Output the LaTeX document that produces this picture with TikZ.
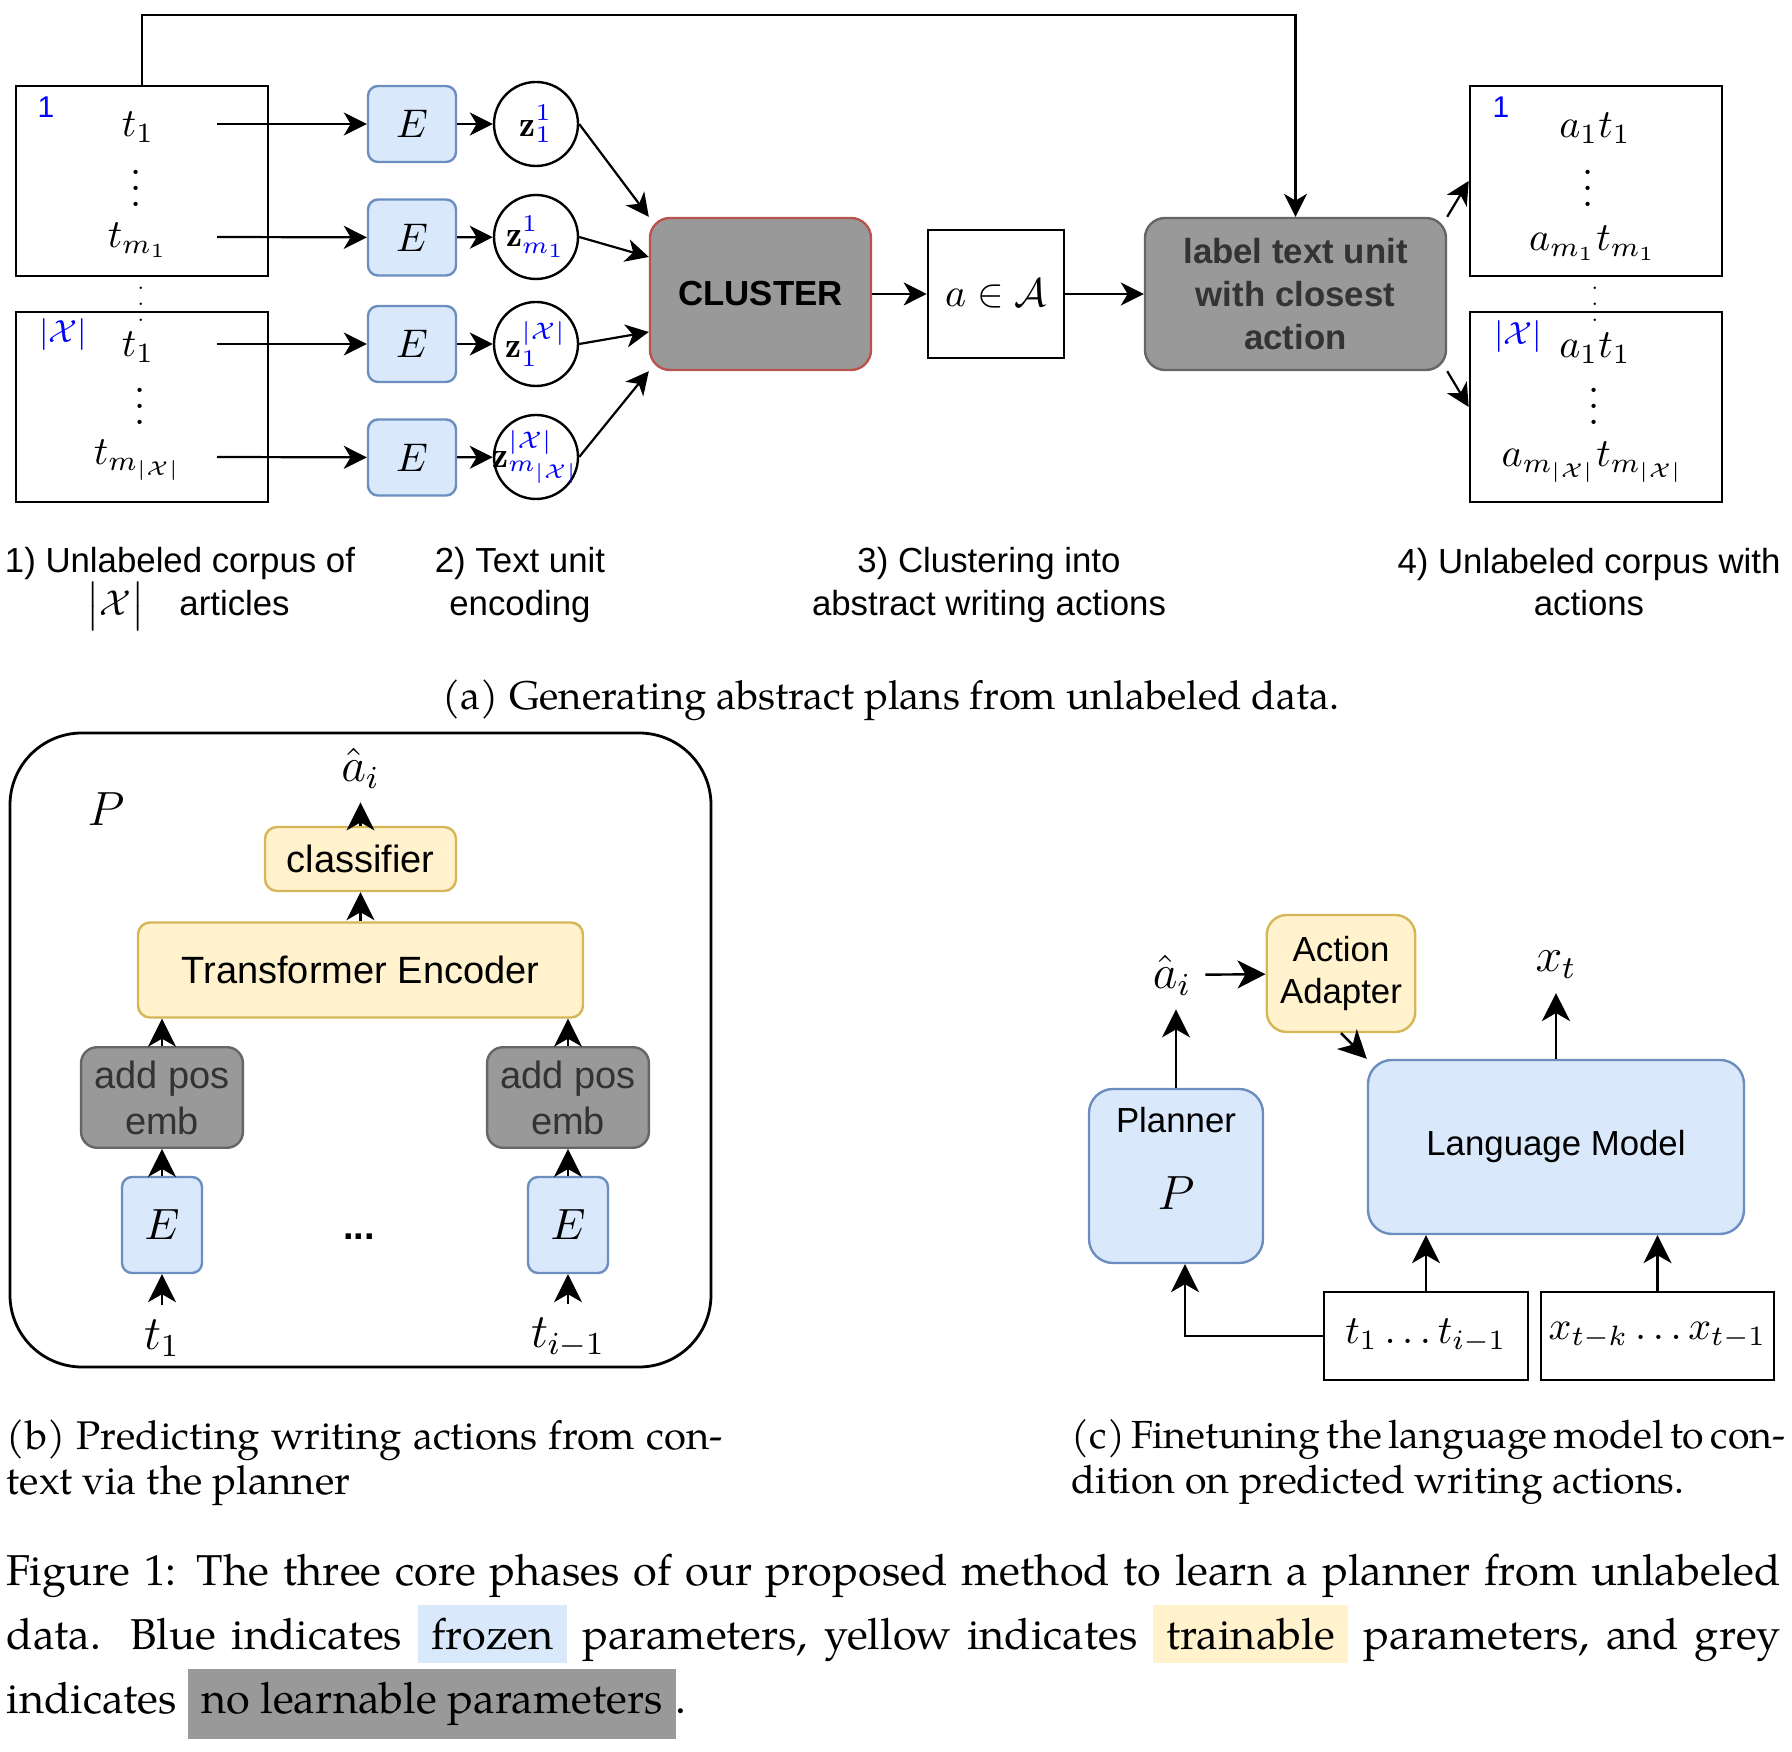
\documentclass[tikz,border=0pt]{standalone}
\usepackage{fontspec}
\setsansfont{Liberation Sans}
\newfontfamily\pagella{TeX Gyre Pagella}
\usetikzlibrary{arrows.meta}
\setlength{\fboxsep}{3.3pt}

\definecolor{frozen}{HTML}{DAE8FC}
\definecolor{frozenline}{HTML}{6C8EBF}
\definecolor{train}{HTML}{FFF2CC}
\definecolor{trainline}{HTML}{D6B656}
\definecolor{fixgrey}{HTML}{999999}
\definecolor{fixline}{HTML}{666666}
\definecolor{clusterline}{HTML}{B85450}
\definecolor{darktext}{HTML}{333333}

\begin{document}
\begin{tikzpicture}[x=0.25pt,y=-0.25pt,
    arr/.style={-{Stealth[length=5.75pt,width=5.75pt,inset=1.7pt]},line width=0.55pt},
    arrb/.style={-{Stealth[length=7pt,width=7pt,inset=2pt]},line width=0.6pt},
    corpus/.style={draw,line width=0.65pt,minimum width=63pt,minimum height=47.5pt},
    frz/.style={draw=frozenline,fill=frozen,line width=0.6pt,rounded corners=2.5pt},
    trn/.style={draw=trainline,fill=train,line width=0.6pt,rounded corners=3pt},
    fix/.style={draw=fixline,fill=fixgrey,line width=0.6pt,rounded corners=4pt,text=darktext},
    zc/.style={circle,draw,line width=0.6pt,minimum size=21pt,inner sep=0pt,font=\fontsize{9}{10}\selectfont},
    sf/.style={font=\sffamily\fontsize{8.7}{10.7}\selectfont,align=center},
    sfb/.style={font=\sffamily\bfseries\fontsize{8.7}{10.7}\selectfont,align=center},
    sfl/.style={font=\sffamily\fontsize{9.5}{11.5}\selectfont,align=center},
    ma/.style={font=\fontsize{10}{12}\selectfont},
    mb/.style={font=\fontsize{11.5}{13}\selectfont},
    idx/.style={text=blue,font=\sffamily\fontsize{7.5}{9}\selectfont},
    captext/.style={font=\pagella\fontsize{10}{11.25}\selectfont,align=left,inner sep=0pt,anchor=north west}]
    \useasboundingbox (0,0) rectangle (1792,1752);

    % (a) generating abstract plans
    \node[corpus] (in1) at (142,181) {};
    \node[corpus] (in2) at (142,407) {};
    \node[idx] (n1) at (46,107) {1};
    \node[idx,font=\fontsize{8.5}{9}\selectfont] (n2) at (63,335) {$|\mathcal{X}|$};
    \node[ma] (t11) at (138,127) {$t_1$};
    \node[ma] (d1) at (136,176) {$\vdots$};
    \node[ma] (tm1) at (138,240) {$t_{m_1}$};
    \node[ma] (t21) at (138,347) {$t_1$};
    \node[ma] (d2) at (140,394) {$\vdots$};
    \node[ma] (tm2) at (138,460) {$t_{m_{|\mathcal{X}|}}$};
    \node[font=\fontsize{5}{6}\selectfont] (din) at (141,292) {$\vdots$};

    \coordinate (s1) at (217,124);
    \coordinate (s2) at (217,237);
    \coordinate (s3) at (217,344);
    \coordinate (s4) at (217,457);

    \node[frz,minimum width=22pt,minimum height=19pt,ma] (e1) at (412,124) {$E$};
    \node[frz,minimum width=22pt,minimum height=19pt,ma] (e2) at (412,237.5) {$E$};
    \node[frz,minimum width=22pt,minimum height=19pt,ma] (e3) at (412,344) {$E$};
    \node[frz,minimum width=22pt,minimum height=19pt,ma] (e4) at (412,457.5) {$E$};

    \node[zc] (z1) at (536,124) {$\mathbf{z}_1^{\color{blue}1}$};
    \node[zc] (z2) at (536,237) {$\mathbf{z}_{m_1}^{\color{blue}1}$};
    \node[zc] (z3) at (536,344) {$\mathbf{z}_1^{\color{blue}|\mathcal{X}|}$};
    \node[zc] (z4) at (536,457) {\makebox[0pt]{$\mathbf{z}_{m_{|\mathcal{X}|}}^{\color{blue}|\mathcal{X}|}$}};

    \node[draw=clusterline,fill=fixgrey,rounded corners=5pt,line width=0.6pt,minimum width=55.25pt,minimum height=38pt,sfb] (clu) at (760.5,294) {CLUSTER};
    \node[draw,line width=0.65pt,minimum width=34pt,minimum height=32pt,ma] (act) at (996,294) {$a\in\mathcal{A}$};
    \node[fix,rounded corners=5pt,minimum width=75.25pt,minimum height=38pt,sfb,text=darktext] (lab) at (1295.5,294) {label text unit\\with closest\\action};

    \node[corpus] (out1) at (1596,181) {};
    \node[corpus] (out2) at (1596,407) {};
    \node[idx] (n3) at (1501,107) {1};
    \node[idx,font=\fontsize{8.5}{9}\selectfont] (n4) at (1518,337) {$|\mathcal{X}|$};
    \node[ma] (a11) at (1595,128) {$a_1t_1$};
    \node[ma] (d3) at (1588,176) {$\vdots$};
    \node[ma] (am1) at (1593,243) {$a_{m_1}t_{m_1}$};
    \node[ma] (a21) at (1595,348) {$a_1t_1$};
    \node[ma] (d4) at (1594,394) {$\vdots$};
    \node[ma] (am2) at (1593,462) {$a_{m_{|\mathcal{X}|}}t_{m_{|\mathcal{X}|}}$};
    \node[font=\fontsize{5}{6}\selectfont] (dout) at (1595,292) {$\vdots$};

    \draw[arr] (s1) -- (e1);
    \draw[arr] (s2) -- (e2);
    \draw[arr] (s3) -- (e3);
    \draw[arr] (s4) -- (e4);
    \draw[arr] (e1) -- (z1);
    \draw[arr] (e2) -- (z2);
    \draw[arr] (e3) -- (z3);
    \draw[arr] (e4) -- (z4);
    \draw[arr] (z1.east) -- (clu.north west);
    \draw[arr] (z2.east) -- ([yshift=9.25pt]clu.west);
    \draw[arr] (z3.east) -- ([yshift=-9.5pt]clu.west);
    \draw[arr] (z4.east) -- (clu.south west);
    \draw[arr] (clu) -- (act);
    \draw[arr] (act) -- (lab);
    \draw[arr] (lab.north east) -- (out1.west);
    \draw[arr] (lab.south east) -- (out2.west);
    \draw[arr] (in1.north) -- ++(0,-70) -| (lab.north);

    \node[sf] (st1) at (180,589) {1) Unlabeled corpus of\\\hspace*{4pt}$\big|\mathcal{X}\big|$\quad articles};
    \node[sf] (st2) at (520,585) {2) Text unit\\encoding};
    \node[sf] (st3) at (989,585) {3) Clustering into\\abstract writing actions};
    \node[sf] (st4) at (1589,582) {4) Unlabeled corpus with\\actions};
    \node[font=\pagella\fontsize{10}{12}\selectfont] (capa) at (891,700) {(a) Generating abstract plans from unlabeled data.};

    % (b) planner
    \draw[line width=0.7pt,rounded corners=18pt] (10,733) rectangle (711,1367);
    \node[font=\fontsize{12}{14}\selectfont] (pb) at (106,809) {$P$};
    \node[mb] (ahb) at (360.5,768) {$\hat{a}_i$};
    \node[trn,minimum width=47.75pt,minimum height=16pt,sfl] (cls) at (360.5,859) {classifier};
    \node[trn,minimum width=111.25pt,minimum height=23.75pt,sfl] (te) at (360.5,970) {Transformer Encoder};
    \node[fix,minimum width=39.75pt,minimum height=23.75pt,sfl] (ap1) at (162,1097.5) {add pos\\emb};
    \node[fix,minimum width=39.75pt,minimum height=23.75pt,sfl] (ap2) at (568,1097.5) {add pos\\emb};
    \node[frz,minimum width=20pt,minimum height=24pt,font=\fontsize{10.5}{12}\selectfont] (eb1) at (162,1225) {$E$};
    \node[frz,minimum width=20pt,minimum height=24pt,font=\fontsize{10.5}{12}\selectfont] (eb2) at (568,1225) {$E$};
    \node[font=\sffamily\bfseries\fontsize{9.5}{11}\selectfont] (dots) at (359,1237) {...};
    \node[mb] (tb1) at (162,1338) {$t_1$};
    \node[mb] (tb2) at (568,1338) {$t_{i-1}$};

    \draw[arrb] (tb1) -- (eb1);
    \draw[arrb] (tb2) -- (eb2);
    \draw[arrb] (eb1) -- (ap1);
    \draw[arrb] (eb2) -- (ap2);
    \draw[arrb] (ap1) -- (ap1 |- te.south);
    \draw[arrb] (ap2) -- (ap2 |- te.south);
    \draw[arrb] (te) -- (cls);
    \draw[arrb] (cls) -- (ahb);

    % (c) finetuning
    \node[trn,rounded corners=5pt,minimum width=36pt,minimum height=29.25pt,sf] (aa) at (1341,973.5) {Action\\Adapter};
    \node[mb] (ahc) at (1172,975) {$\hat{a}_i$};
    \node[frz,rounded corners=6pt,minimum width=43.5pt,minimum height=43.5pt] (pl) at (1176,1176) {};
    \node[sf] (pll) at (1176,1120) {Planner};
    \node[mb] (plp) at (1176,1193) {$P$};
    \node[frz,rounded corners=6pt,minimum width=94pt,minimum height=43.5pt,sf] (lm) at (1556,1147) {Language Model};
    \node[mb] (xt) at (1556,965) {$x_t$};
    \node[draw,line width=0.65pt,minimum width=51pt,minimum height=22pt,inner sep=1pt,ma] (ctx) at (1426,1336) {$t_1\ldots t_{i-1}$};
    \node[draw,line width=0.65pt,minimum width=58.25pt,minimum height=22pt,inner sep=1pt,ma] (xs) at (1657.5,1336) {$x_{t-k}\ldots x_{t-1}$};

    \draw[arrb] (pl.north) -- (pl.north |- ahc.south);
    \draw[arrb] (ahc) -- (aa);
    \draw[arrb] (aa.south) -- (lm.north west);
    \draw[arrb] (lm) -- (xt);
    \draw[arrb] (ctx) -- (ctx |- lm.south);
    \draw[arrb] (xs) -- (xs |- lm.south);
    \draw[arrb] (ctx.west) -| ([xshift=2.25pt]pl.south);

    % captions
    \node[captext] (capb) at (6,1419) {\makebox[179pt][s]{(b) Predicting writing actions from con-}\\text via the planner};
    \node[captext,font=\pagella\fontsize{9.8}{11.25}\selectfont] (capc) at (1071,1419) {\makebox[178pt][s]{(c) Finetuning the language model to con-}\\dition on predicted writing actions.};
    \node[captext,font=\pagella\fontsize{10.8}{16}\selectfont] (fig) at (6,1553) {\makebox[443.5pt][s]{Figure 1: The three core phases of our proposed method to learn a planner from unlabeled}\\
        \makebox[443.5pt][s]{data. Blue indicates \colorbox{frozen}{frozen} parameters, yellow indicates \colorbox{train}{trainable} parameters, and grey}\\
        indicates \colorbox{fixgrey}{no learnable parameters}.};
\end{tikzpicture}
\end{document}
